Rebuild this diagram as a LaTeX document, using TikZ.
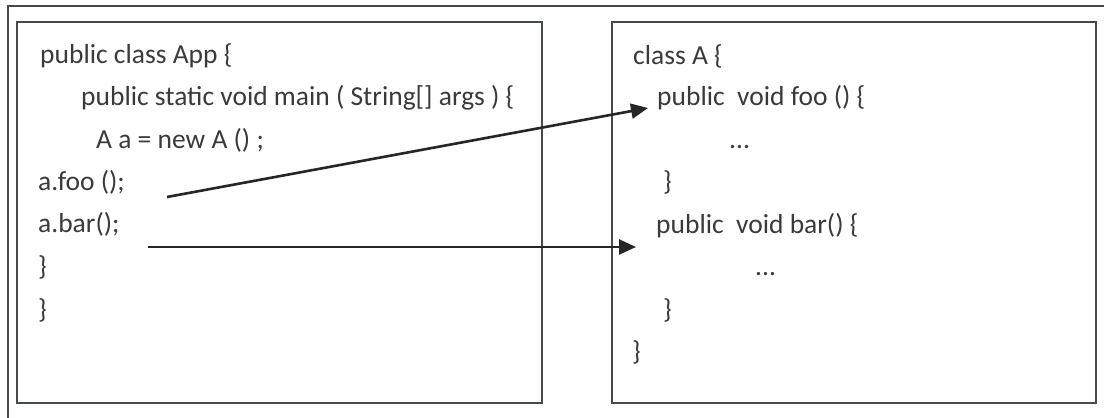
\documentclass[tikz,border=0pt]{standalone}
\usepackage{fontspec}
\setmainfont{Carlito}
\usetikzlibrary{arrows.meta}

\definecolor{ink}{HTML}{3A3A3A}
\definecolor{frame}{HTML}{454A4A}

\tikzset{
	code/.style={anchor=base west, inner sep=0pt, text=ink, font=\fontsize{27.5}{32}\selectfont},
	codebox/.style={draw=frame, line width=1.6pt},
	call/.style={-{Triangle[length=17pt,width=15pt]}, line width=2.6pt, draw=black!85}
}

\begin{document}
\begin{tikzpicture}[x=1pt,y=-1pt]
	\useasboundingbox (0,0) rectangle (1104,418);
	
	% page frame (cut at right and bottom)
	\draw[frame, line width=1.3pt] (8,418) -- (8,6) -- (1104,6);
	
	\draw[codebox] (17,22) rectangle (542,403);
	\draw[codebox] (612,22) rectangle (1096,403);
	
	% caller
	\node[code] (app)  at (40,63)  {public class App \{};
	\node[code] (main) at (81,105) {public static void main ( String[] args ) \{};
	\node[code] (new)  at (96,148) {A a = new A () ;};
	\node[code] (cfoo) at (38,190) {a.foo ();};
	\node[code] (cbar) at (38,232) {a.bar();};
	\node[code] (end1) at (38,275) {\}};
	\node[code] (end2) at (38,318) {\}};
	
	% callee
	\node[code] (cls)  at (633,64)  {class A \{};
	\node[code] (dfoo) at (657,105) {public\ \ void foo () \{};
	\node[code] (bfoo) at (729,148) {...};
	\node[code] (efoo) at (663,190) {\}};
	\node[code] (dbar) at (656,233) {public\ \ void bar() \{};
	\node[code] (bbar) at (755,275) {...};
	\node[code] (ebar) at (663,318) {\}};
	\node[code] (ecls) at (632,360) {\}};
	
	\coordinate (foofrom) at (167,197);
	\coordinate (barfrom) at (148,247);
	
	\draw[call] (foofrom) -- ([xshift=-9pt,yshift=-3pt]dfoo.base west);
	\draw[call] (barfrom) -- ([xshift=-20pt,yshift=-14pt]dbar.base west);
\end{tikzpicture}
\end{document}
